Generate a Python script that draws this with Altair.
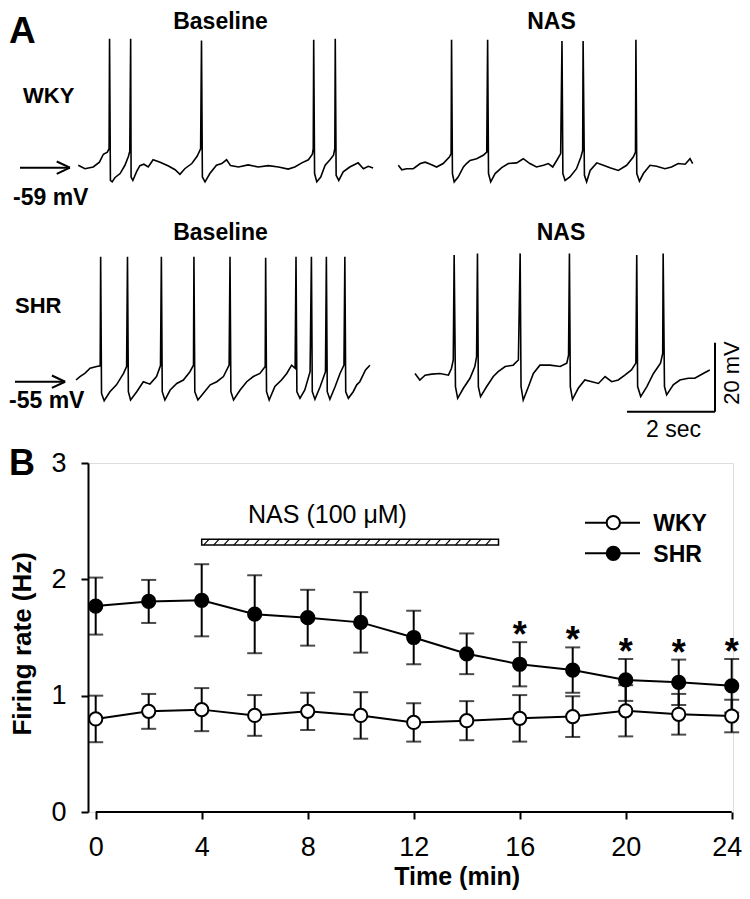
import altair as alt
import pandas as pd
import numpy as np

FONT = "Liberation Sans"

# ---------------- Panel B data: firing rate (Hz) ----------------
TIME_MIN = [0, 2, 4, 6, 8, 10, 12, 14, 16, 18, 20, 22, 24]
WKY_MEAN = [0.80, 0.865, 0.88, 0.83, 0.865, 0.83, 0.77, 0.785, 0.805, 0.82, 0.87, 0.84, 0.825]
WKY_SEM = [0.20, 0.15, 0.185, 0.175, 0.16, 0.20, 0.165, 0.168, 0.20, 0.175, 0.22, 0.175, 0.14]
SHR_MEAN = [1.77, 1.81, 1.82, 1.70, 1.67, 1.63, 1.50, 1.36, 1.27, 1.22, 1.135, 1.115, 1.085]
SHR_SEM = [0.245, 0.185, 0.31, 0.335, 0.24, 0.26, 0.23, 0.175, 0.19, 0.195, 0.18, 0.195, 0.23]
SIG_TIMES = [16, 18, 20, 22, 24]
NAS_START_MIN, NAS_END_MIN = 4.0, 15.2
NAS_LABEL = "NAS (100 μM)"
X_TICKS = [0, 4, 8, 12, 16, 20, 24]
Y_TICKS = [0, 1, 2, 3]

# ---------------- Panel A data: membrane potential traces (s, mV) ----------------
WKY_BASELINE = [(0.00, -58.5), (0.15, -59.5), (0.34, -59.0), (0.48, -57.6), (0.57, -55.3), (0.66, -54.7),
                (0.70, -53.7), (0.71, -21.8), (0.73, -62.9), (0.77, -63.3), (0.83, -62.1), (0.95, -60.9),
                (1.06, -58.5), (1.14, -55.9), (1.17, -54.4), (1.19, -21.8), (1.20, -61.9), (1.24, -62.9),
                (1.33, -60.2), (1.40, -58.6), (1.49, -58.2), (1.59, -59.0), (1.70, -56.9), (1.86, -57.6),
                (2.05, -58.7), (2.20, -59.8), (2.31, -61.1), (2.42, -59.5), (2.58, -58.0), (2.70, -55.9),
                (2.78, -53.7), (2.80, -22.3), (2.82, -61.9), (2.88, -63.3), (2.99, -60.9), (3.14, -58.5),
                (3.26, -58.0), (3.37, -56.9), (3.46, -58.6), (3.64, -59.0), (3.86, -58.4), (4.09, -59.0),
                (4.32, -58.6), (4.55, -59.0), (4.77, -59.6), (4.92, -59.0), (5.08, -57.8), (5.23, -56.9),
                (5.32, -55.3), (5.34, -53.7), (5.35, -22.1), (5.37, -60.9), (5.42, -63.3), (5.51, -61.9),
                (5.61, -58.5), (5.72, -56.9), (5.80, -55.6), (5.83, -53.7), (5.84, -21.8), (5.86, -61.4),
                (5.92, -62.9), (6.02, -60.4), (6.17, -59.0), (6.36, -57.8), (6.48, -59.5), (6.59, -58.8),
                (6.70, -59.3)]
WKY_NAS = [(0.00, -58.5), (0.08, -59.8), (0.19, -59.5), (0.34, -59.5), (0.50, -58.0), (0.61, -57.6),
           (0.73, -58.2), (0.87, -59.0), (1.02, -58.0), (1.16, -56.1), (1.20, -55.1), (1.21, -22.1),
           (1.23, -60.9), (1.27, -63.3), (1.36, -61.9), (1.48, -59.0), (1.55, -58.0), (1.63, -57.1),
           (1.78, -56.6), (1.93, -55.6), (2.01, -54.7), (2.03, -22.1), (2.05, -60.9), (2.10, -63.3),
           (2.20, -60.9), (2.35, -59.2), (2.50, -58.0), (2.69, -57.8), (2.84, -56.6), (2.99, -58.0),
           (3.14, -59.0), (3.30, -58.5), (3.41, -58.0), (3.51, -59.0), (3.61, -56.9), (3.69, -55.1),
           (3.72, -22.5), (3.74, -60.9), (3.79, -62.9), (3.90, -61.9), (4.05, -59.5), (4.15, -56.1),
           (4.19, -54.2), (4.20, -22.5), (4.23, -61.4), (4.28, -63.3), (4.36, -60.0), (4.51, -57.8),
           (4.66, -58.5), (4.81, -59.2), (5.00, -60.0), (5.19, -58.5), (5.34, -56.1), (5.39, -54.7),
           (5.40, -22.1), (5.42, -60.9), (5.48, -63.1), (5.57, -60.9), (5.72, -58.5), (5.87, -58.8),
           (6.06, -59.5), (6.21, -59.0), (6.36, -58.0), (6.52, -58.2), (6.63, -56.6), (6.69, -58.0)]
SHR_BASELINE = [(0.00, -55.0), (0.09, -54.0), (0.20, -53.1), (0.32, -51.6), (0.47, -51.1), (0.55, -50.9),
                (0.56, -19.3), (0.58, -58.9), (0.64, -61.0), (0.77, -58.4), (0.92, -56.4), (1.08, -53.1),
                (1.15, -51.1), (1.17, -19.3), (1.19, -58.4), (1.24, -60.8), (1.38, -58.4), (1.53, -55.5),
                (1.68, -56.2), (1.83, -54.0), (1.92, -50.8), (1.94, -19.3), (1.96, -58.4), (2.02, -60.8),
                (2.14, -57.9), (2.29, -56.0), (2.44, -55.0), (2.59, -52.6), (2.67, -50.7), (2.68, -19.3),
                (2.70, -58.4), (2.77, -60.8), (2.89, -58.9), (3.05, -56.4), (3.20, -55.5), (3.35, -54.0),
                (3.48, -50.7), (3.50, -19.3), (3.52, -58.4), (3.58, -60.8), (3.73, -57.9), (3.88, -55.5),
                (4.03, -54.0), (4.18, -53.1), (4.30, -51.1), (4.31, -19.6), (4.33, -58.4), (4.39, -60.8),
                (4.52, -56.9), (4.67, -55.0), (4.79, -53.1), (4.90, -50.7), (4.98, -51.6), (5.00, -19.3),
                (5.02, -58.4), (5.09, -60.3), (5.20, -57.9), (5.32, -52.6), (5.35, -19.3), (5.37, -58.4),
                (5.43, -60.6), (5.55, -56.9), (5.67, -52.6), (5.69, -19.3), (5.71, -58.4), (5.77, -60.6),
                (5.89, -56.9), (6.00, -53.1), (6.09, -50.7), (6.11, -19.3), (6.13, -58.4), (6.19, -60.3),
                (6.30, -58.4), (6.38, -56.4), (6.45, -55.5), (6.58, -52.1), (6.68, -50.7)]
SHR_NAS = [(0.00, -53.1), (0.11, -55.0), (0.23, -53.6), (0.38, -53.3), (0.57, -53.1), (0.76, -53.6),
           (0.83, -51.6), (0.87, -49.2), (0.89, -18.8), (0.92, -56.9), (0.97, -60.3), (1.10, -57.4),
           (1.25, -54.5), (1.36, -51.1), (1.40, -48.2), (1.42, -18.3), (1.44, -56.9), (1.49, -59.8),
           (1.63, -56.9), (1.78, -54.0), (1.89, -52.6), (2.05, -51.1), (2.23, -50.7), (2.35, -49.2),
           (2.39, -18.3), (2.41, -56.9), (2.46, -60.8), (2.58, -56.9), (2.69, -53.1), (2.84, -50.7),
           (3.07, -50.7), (3.30, -51.1), (3.45, -50.1), (3.49, -47.8), (3.51, -18.3), (3.53, -56.9),
           (3.58, -60.6), (3.71, -57.4), (3.86, -55.0), (4.02, -55.5), (4.17, -56.0), (4.32, -54.0),
           (4.47, -55.5), (4.62, -55.0), (4.77, -53.6), (4.92, -52.1), (5.02, -50.1), (5.04, -18.8),
           (5.06, -56.9), (5.13, -59.8), (5.27, -56.9), (5.42, -53.1), (5.58, -50.1), (5.63, -47.3),
           (5.64, -18.3), (5.67, -56.9), (5.72, -59.3), (5.87, -56.4), (6.02, -55.0), (6.21, -54.5),
           (6.36, -54.5), (6.55, -53.1), (6.70, -52.1)]
REST_MV = {"WKY": -59, "SHR": -55}
SCALEBAR_SEC, SCALEBAR_MV = 2, 20

# ---------------- layout (pixels, relative to panel-B plot origin) ----------------
PLOT_W, PLOT_H = 645, 349
PAD = {"left": 80, "top": 455, "right": 9, "bottom": 79}
# panel B x scale: t=0 at 7.7 px, 26.5 px per minute
XB_DOMAIN = [-7.7 / 26.5, (PLOT_W - 7.7) / 26.5]
# panel A: 44 px per second, 3.45 px per mV
PX_S, PX_MV = 44.0, 3.45
A_X0 = -9.7
A_Y_REST = {"WKY": -296.0, "SHR": -83.0}
ROW_SHIFT = {r: (REST_MV["WKY"] - (A_Y_REST[r] - A_Y_REST["WKY"]) / PX_MV) - REST_MV[r] for r in ("WKY", "SHR")}
COL_START = {("WKY", "Baseline"): 0.0, ("WKY", "NAS"): 7.273, ("SHR", "Baseline"): -0.052, ("SHR", "NAS"): 7.652}
XA_DOMAIN = [(0 - A_X0) / PX_S, (PLOT_W - A_X0) / PX_S]
YA_DOMAIN = [REST_MV["WKY"] - (PLOT_H - A_Y_REST["WKY"]) / PX_MV, REST_MV["WKY"] - (0 - A_Y_REST["WKY"]) / PX_MV]

one = pd.DataFrame({"_": [0]})

# ================= Panel A =================
frames = []
for (row, col), pts in {("WKY", "Baseline"): WKY_BASELINE, ("WKY", "NAS"): WKY_NAS,
                        ("SHR", "Baseline"): SHR_BASELINE, ("SHR", "NAS"): SHR_NAS}.items():
    frames.append(pd.DataFrame({
        "t": [COL_START[(row, col)] + p[0] for p in pts],
        "v": [p[1] + ROW_SHIFT[row] for p in pts],
        "trace": f"{row}-{col}",
        "order": list(range(len(pts))),
    }))
dfA = pd.concat(frames, ignore_index=True)

xA = alt.Scale(domain=XA_DOMAIN, nice=False, zero=False)
yA = alt.Scale(domain=YA_DOMAIN, nice=False, zero=False)

traces = alt.Chart(dfA).mark_line(color="black", strokeWidth=1.6, strokeJoin="miter").encode(
    x=alt.X("t:Q", scale=xA, axis=None),
    y=alt.Y("v:Q", scale=yA, axis=None),
    detail="trace:N", order="order:Q")

# scale bars (SHR row)
sb_t, sb_v = 14.47, -64.2 + ROW_SHIFT["SHR"]
df_sb = pd.DataFrame({"x": [sb_t - SCALEBAR_SEC, sb_t], "x2": [sb_t, sb_t],
                      "y": [sb_v, sb_v], "y2": [sb_v, sb_v + SCALEBAR_MV]})
scalebar = alt.Chart(df_sb).mark_rule(color="black", strokeWidth=2).encode(
    x=alt.X("x:Q", scale=xA, axis=None), x2="x2:Q",
    y=alt.Y("y:Q", scale=yA, axis=None), y2="y2:Q")

# resting-potential arrows
arrow_rows = []
for row, t_tail, t_tip, v in (("WKY", -1.325, -0.19, -59.2), ("SHR", -1.44, -0.30, -55.5)):
    vv = v + ROW_SHIFT[row]
    arrow_rows += [
        {"x": t_tail, "x2": t_tip, "y": vv, "y2": vv},
        {"x": t_tip - 0.30, "x2": t_tip, "y": vv + 1.8, "y2": vv},
        {"x": t_tip - 0.30, "x2": t_tip, "y": vv - 1.8, "y2": vv},
    ]
arrows = alt.Chart(pd.DataFrame(arrow_rows)).mark_rule(color="black", strokeWidth=2).encode(
    x=alt.X("x:Q", scale=xA, axis=None), x2="x2:Q",
    y=alt.Y("y:Q", scale=yA, axis=None), y2="y2:Q")


def label(text, x, y, size=23, weight="bold", align="left", baseline="alphabetic", angle=0):
    return alt.Chart(one).mark_text(text=text, font=FONT, fontSize=size, fontWeight=weight, align=align,
                                    baseline=baseline, angle=angle, color="black").encode(
        x=alt.value(x), y=alt.value(y))


labelsA = [
    label("A", -79, -420, size=37),
    label("Baseline", 132.5, -434, align="center"),
    label("NAS", 463.5, -434, align="center"),
    label("WKY", -65, -360, size=22),
    label("-59 mV", -75, -258),
    label("Baseline", 132.5, -223, align="center"),
    label("NAS", 473, -223, align="center"),
    label("SHR", -73, -150, size=22),
    label("-55 mV", -79, -55),
    label("20 mV", 643.5, -90, size=22, weight="normal", align="center", baseline="middle", angle=270),
    label("2 sec", 585.5, -26, size=23, weight="normal", align="center"),
    label("B", -79, 12, size=36),
]

panelA = alt.layer(traces, scalebar, arrows, *labelsA)

# ================= Panel B =================
rows = []
for g, means, sems in (("WKY", WKY_MEAN, WKY_SEM), ("SHR", SHR_MEAN, SHR_SEM)):
    for t, m, s in zip(TIME_MIN, means, sems):
        rows.append({"group": g, "t": t, "mean": m, "lo": m - s, "hi": m + s})
dfB = pd.DataFrame(rows)
dfStar = dfB[(dfB.group == "SHR") & dfB.t.isin(SIG_TIMES)]

xB = alt.Scale(domain=XB_DOMAIN, nice=False, zero=False)
yB = alt.Scale(domain=[0, 3], nice=False, zero=False)
x_axis = alt.Axis(values=X_TICKS, format="d", title="Time (min)", grid=False, domain=False,
                  tickSize=7, tickWidth=2, tickColor="black",
                  labelFont=FONT, labelFontSize=27, labelColor="black", labelPadding=36,
                  labelBaseline="alphabetic", labelFlush=False, labelOverlap=False,
                  labelOffset={"condition": {"test": f"datum.value == {X_TICKS[-1]}", "value": -5}, "value": 0},
                  titleFont=FONT, titleFontSize=25, titleFontWeight="bold", titleColor="black",
                  titleX=368.7, titleY=72, titleAlign="center", titleBaseline="alphabetic")
y_axis = alt.Axis(values=Y_TICKS, format="d", title="Firing rate (Hz)", grid=False,
                  domain=True, domainColor="black", domainWidth=2,
                  tickSize=7, tickWidth=2, tickColor="black",
                  labelFont=FONT, labelFontSize=27, labelColor="black", labelPadding=15,
                  labelFlush=False, labelOverlap=False,
                  titleFont=FONT, titleFontSize=26, titleFontWeight="bold", titleColor="black",
                  titleX=-58, titleY=180.3, titleAngle=270, titleAlign="center", titleBaseline="alphabetic")


def XB(field):
    return alt.X(field, type="quantitative", scale=xB, axis=x_axis)


def YB(field):
    return alt.Y(field, type="quantitative", scale=yB, axis=y_axis)


base = alt.Chart(dfB)
err = base.mark_rule(color="black", strokeWidth=2).encode(x=XB("t"), y=YB("lo"), y2="hi")
cap_lo = base.mark_tick(orient="horizontal", size=15, thickness=2, color="black").encode(x=XB("t"), y=YB("lo"))
cap_hi = base.mark_tick(orient="horizontal", size=15, thickness=2, color="black").encode(x=XB("t"), y=YB("hi"))
lines = base.mark_line(color="black", strokeWidth=2).encode(x=XB("t"), y=YB("mean"), detail="group:N")
points = base.mark_circle(size=175, stroke="black", strokeWidth=2, opacity=1).encode(
    x=XB("t"), y=YB("mean"),
    fill=alt.Fill("group:N", scale=alt.Scale(domain=["WKY", "SHR"], range=["white", "black"]), legend=None))
stars = alt.Chart(dfStar).mark_text(text="*", font=FONT, fontSize=36, fontWeight="bold", baseline="alphabetic",
                                    dy=5, color="black").encode(x=XB("t"), y=YB("hi"))

x_line = alt.Chart(pd.DataFrame({"a": [X_TICKS[0]], "b": [X_TICKS[-1]], "y": [0]})).mark_rule(
    color="black", strokeWidth=2).encode(x=XB("a"), x2="b", y=YB("y"))

# NAS application bar (hatched)
BAR_LO, BAR_HI = 2.296, 2.345
nas_bar = alt.Chart(pd.DataFrame({"a": [NAS_START_MIN], "b": [NAS_END_MIN], "lo": [BAR_LO], "hi": [BAR_HI]})).mark_rect(
    fill="white", stroke="black", strokeWidth=1.5).encode(x=XB("a"), x2="b", y=YB("lo"), y2="hi")
hatch_x = np.arange(NAS_START_MIN + 0.08, NAS_END_MIN - 0.2, 0.38)
hatch = alt.Chart(pd.DataFrame({"a": hatch_x, "b": hatch_x + 0.2, "lo": BAR_LO, "hi": BAR_HI})).mark_rule(
    color="black", strokeWidth=1.2).encode(x=XB("a"), x2="b", y=YB("lo"), y2="hi")
nas_text = label(NAS_LABEL, 239.5, 60.3, size=25, weight="normal", align="center")

# legend
legend_layers = []
for g, fill, yc, yb in (("WKY", "white", 59.7, 67.7), ("SHR", "black", 90.3, 99.0)):
    legend_layers.append(alt.Chart(one).mark_rule(color="black", strokeWidth=2).encode(
        x=alt.value(497), x2=alt.value(552), y=alt.value(yc)))
    legend_layers.append(alt.Chart(one).mark_circle(size=175, fill=fill, stroke="black", strokeWidth=2,
                                                    opacity=1).encode(x=alt.value(525.3), y=alt.value(yc)))
    legend_layers.append(label(g, 565.3, yb, size=23))

panelB = alt.layer(nas_bar, hatch, err, cap_lo, cap_hi, lines, points, stars, x_line, nas_text, *legend_layers)

chart = alt.layer(panelA, panelB).resolve_scale(x="independent", y="independent").properties(
    width=PLOT_W, height=PLOT_H, padding=PAD,
    autosize=alt.AutoSizeParams(type="none"),
    background="white",
).configure_view(strokeWidth=0).configure(font=FONT)

chart.save("out.html", embed_options={"renderer": "svg", "actions": False})
